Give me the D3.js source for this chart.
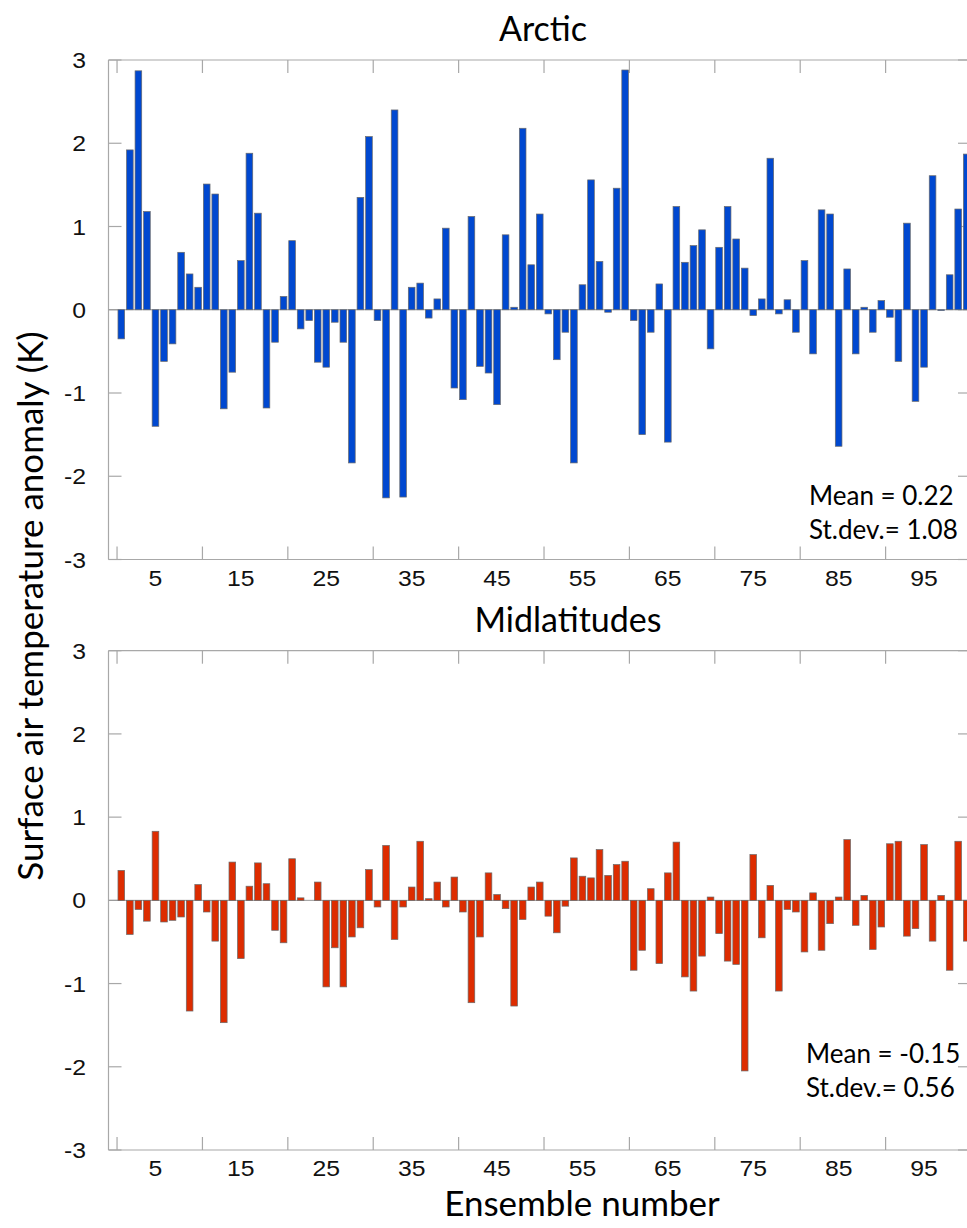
<!DOCTYPE html>
<html>
<head>
<meta charset="utf-8">
<script src="https://cdn.jsdelivr.net/npm/d3@7/dist/d3.min.js"></script>
<style>
  html, body { margin: 0; padding: 0; background: #fff; }
  svg { display: block; }
</style>
</head>
<body>
<svg id="chart" width="967" height="1228"></svg>
<script>
// ---- Data ----
const ensemble = d3.range(1, 101);
const arcticValues = [
  -0.35, 1.92, 2.87, 1.18, -1.40, -0.62, -0.41, 0.69, 0.43, 0.27,
  1.51, 1.39, -1.19, -0.75, 0.59, 1.88, 1.16, -1.18, -0.39, 0.16,
  0.83, -0.23, -0.13, -0.63, -0.69, -0.15, -0.39, -1.84, 1.35, 2.08,
  -0.13, -2.26, 2.40, -2.25, 0.27, 0.32, -0.10, 0.13, 0.98, -0.94,
  -1.08, 1.12, -0.68, -0.76, -1.14, 0.90, 0.03, 2.18, 0.54, 1.15,
  -0.05, -0.60, -0.27, -1.84, 0.30, 1.56, 0.58, -0.03, 1.46, 2.88,
  -0.13, -1.50, -0.27, 0.31, -1.59, 1.24, 0.57, 0.77, 0.96, -0.47,
  0.75, 1.24, 0.85, 0.50, -0.07, 0.13, 1.82, -0.05, 0.12, -0.27,
  0.59, -0.53, 1.20, 1.15, -1.64, 0.49, -0.53, 0.03, -0.27, 0.11,
  -0.09, -0.62, 1.04, -1.10, -0.69, 1.61, -0.01, 0.42, 1.21, 1.87
];
const midlatValues = [
  0.36, -0.41, -0.11, -0.25, 0.83, -0.26, -0.24, -0.20, -1.33, 0.19,
  -0.14, -0.49, -1.47, 0.46, -0.70, 0.17, 0.45, 0.20, -0.36, -0.51,
  0.50, 0.03, 0.00, 0.22, -1.04, -0.57, -1.04, -0.44, -0.33, 0.37,
  -0.08, 0.66, -0.47, -0.08, 0.16, 0.71, 0.02, 0.22, -0.08, 0.28,
  -0.14, -1.23, -0.44, 0.33, 0.07, -0.10, -1.27, -0.23, 0.16, 0.22,
  -0.19, -0.39, -0.07, 0.51, 0.29, 0.27, 0.61, 0.30, 0.43, 0.47,
  -0.84, -0.60, 0.14, -0.76, 0.33, 0.70, -0.92, -1.09, -0.67, 0.04,
  -0.40, -0.73, -0.77, -2.05, 0.55, -0.45, 0.18, -1.09, -0.11, -0.14,
  -0.62, 0.09, -0.60, -0.28, 0.04, 0.73, -0.30, 0.06, -0.59, -0.32,
  0.68, 0.71, -0.43, -0.34, 0.67, -0.49, 0.06, -0.84, 0.71, -0.49
];
const xTickLabels = [5, 15, 25, 35, 45, 55, 65, 75, 85, 95];
const xTickMarks = [0.5, 10.5, 20.5, 30.5, 40.5, 50.5, 60.5, 70.5, 80.5, 90.5];
const yTicks = [-3, -2, -1, 0, 1, 2, 3];
const panelTitles = ["Arctic", "Midlatitudes"];
const statsLines = [["Mean = 0.22", "St.dev.= 1.08"], ["Mean = -0.15", "St.dev.= 0.56"]];
const panelColors = ["#0048d0", "#dd2c00"];

// ---- Layout ----
const svg = d3.select("#chart");
const left = 108.5, right = 971;
const x = d3.scaleLinear().domain([-0.5, 100.5]).range([left, right]);
const barW = (x(1) - x(0)) * 0.78;
const panels = [
  { top: 60, bottom: 559.5, values: arcticValues },
  { top: 650.7, bottom: 1150, values: midlatValues }
];
const axisColor = "#a8a8a8";
const tickLen = 13;
const humanist = "'Lato', 'Open Sans', sans-serif";
const arial = "'Liberation Sans', Arial, sans-serif";
const hs = 1.1; // horizontal stretch of tick labels

function tickText(g, tx, ty, anchor, label) {
  g.append("text")
    .attr("transform", `translate(${tx},${ty}) scale(${hs},1)`)
    .attr("text-anchor", anchor).attr("font-family", arial).attr("font-size", 22.5)
    .attr("fill", "#111").text(label);
}

panels.forEach((p, i) => {
  const y = d3.scaleLinear().domain([-3, 3]).range([p.bottom, p.top]);
  const g = svg.append("g");

  // frame
  [[left, right, p.top, p.top], [left, right, p.bottom, p.bottom],
   [left, left, p.top, p.bottom], [right, right, p.top, p.bottom]].forEach(([x1, x2, y1, y2]) => {
    g.append("line").attr("x1", x1).attr("x2", x2).attr("y1", y1).attr("y2", y2)
      .attr("stroke", axisColor).attr("stroke-width", 1.2);
  });

  // y ticks (inward, both sides)
  yTicks.forEach(t => {
    g.append("line").attr("x1", left).attr("x2", left + tickLen).attr("y1", y(t)).attr("y2", y(t))
      .attr("stroke", axisColor).attr("stroke-width", 1.2);
    g.append("line").attr("x1", right - tickLen).attr("x2", right).attr("y1", y(t)).attr("y2", y(t))
      .attr("stroke", axisColor).attr("stroke-width", 1.2);
    tickText(g, 86, y(t) + 8, "end", t);
  });

  // x ticks (inward, top and bottom)
  xTickMarks.forEach(t => {
    g.append("line").attr("x1", x(t)).attr("x2", x(t)).attr("y1", p.bottom).attr("y2", p.bottom - tickLen)
      .attr("stroke", axisColor).attr("stroke-width", 1.2);
    g.append("line").attr("x1", x(t)).attr("x2", x(t)).attr("y1", p.top).attr("y2", p.top + tickLen)
      .attr("stroke", axisColor).attr("stroke-width", 1.2);
  });
  xTickLabels.forEach(t => tickText(g, x(t), p.bottom + 26, "middle", t));

  // zero line
  g.append("line").attr("x1", left).attr("x2", right).attr("y1", y(0)).attr("y2", y(0))
    .attr("stroke", "#999").attr("stroke-width", 1);

  // bars
  g.selectAll("rect.bar").data(p.values).join("rect").attr("class", "bar")
    .attr("x", (d, k) => x(ensemble[k]) - barW / 2)
    .attr("width", barW)
    .attr("y", d => Math.min(y(d), y(0)))
    .attr("height", d => Math.abs(y(d) - y(0)))
    .attr("fill", panelColors[i])
    .attr("stroke", "#6a6a6a").attr("stroke-width", 0.7);

  // title
  g.append("text").attr("x", i === 0 ? 543 : 568).attr("y", p.top - 19)
    .attr("text-anchor", "middle").attr("font-family", humanist).attr("font-size", 34)
    .attr("fill", "#000").text(panelTitles[i]);

  // stats
  const sx = i === 0 ? 809 : 806;
  const sy = i === 0 ? 505 : 1063;
  statsLines[i].forEach((s, k) => {
    g.append("text").attr("x", sx).attr("y", sy + k * 33.5)
      .attr("font-family", humanist).attr("font-size", 26).attr("fill", "#000").text(s);
  });
});

// axis titles
svg.append("text").attr("transform", "translate(43,606) rotate(-90)")
  .attr("text-anchor", "middle").attr("font-family", humanist).attr("font-size", 35)
  .attr("fill", "#000").text("Surface air temperature anomaly (K)");
svg.append("text").attr("x", 582).attr("y", 1216)
  .attr("text-anchor", "middle").attr("font-family", humanist).attr("font-size", 35)
  .attr("fill", "#000").text("Ensemble number");
</script>
</body>
</html>
